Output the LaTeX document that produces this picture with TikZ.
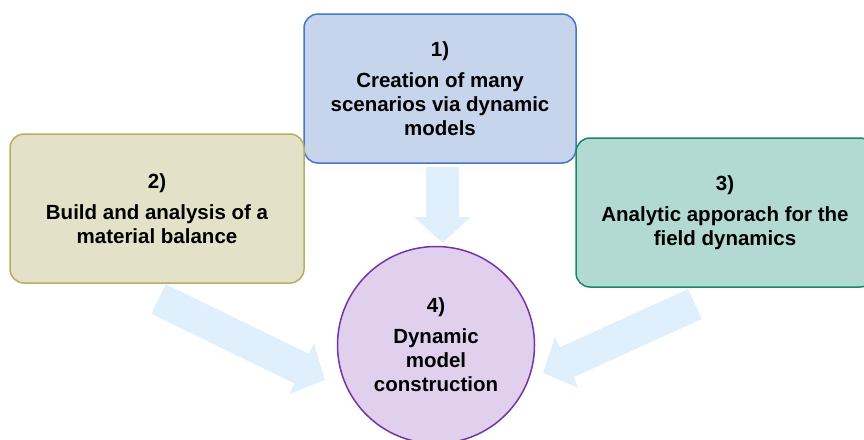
\documentclass[tikz,border=0pt]{standalone}
\usepackage{fontspec}
\setmainfont{Liberation Sans}
\usetikzlibrary{arrows.meta}
\definecolor{oneFill}{HTML}{C6D4EC}
\definecolor{oneLine}{HTML}{4A76C6}
\definecolor{twoFill}{HTML}{E3E1C7}
\definecolor{twoLine}{HTML}{B5B060}
\definecolor{threeFill}{HTML}{B3DAD2}
\definecolor{threeLine}{HTML}{178768}
\definecolor{fourFill}{HTML}{E0D0EE}
\definecolor{fourLine}{HTML}{7434A6}
\definecolor{flowBlue}{HTML}{DFF0FC}
\begin{document}
\begin{tikzpicture}[x=1pt,y=-1pt,
  label text/.style={align=center, text=black,
    font=\bfseries\fontsize{20.5}{24}\selectfont},
  card/.style={label text, draw, line width=1.5pt, rounded corners=14pt,
    inner sep=0pt, minimum height=149pt},
  hub/.style={label text, circle, draw, line width=1.5pt, inner sep=0pt,
    minimum size=197pt},
  flow/.style={draw=flowBlue, line width=33pt,
    -{Triangle[length=26pt,width=55pt]}}]
\useasboundingbox (0,0) rectangle (864,439);

% block arrows feeding the central step
\coordinate (t1) at (442.5,167);
\coordinate (h1) at (442.5,243);
\coordinate (t2) at (158.5,299);
\coordinate (h2) at (325,380);
\coordinate (t3) at (695,304);
\coordinate (h3) at (543,373);
\draw[flow] (t1) -- (h1);
\draw[flow] (t2) -- (h2);
\draw[flow] (t3) -- (h3);

% the four steps
\node[card, fill=oneFill, draw=oneLine, minimum width=272pt] (s1) at (440,88.5)
  {1)\\[7pt]Creation of many\\scenarios via dynamic\\models};
\node[card, fill=twoFill, draw=twoLine, minimum width=294pt] (s2) at (157,208.5)
  {2)\\[7pt]Build and analysis of a\\material balance};
\node[card, fill=threeFill, draw=threeLine, minimum width=298pt] (s3) at (725,212.5)
  {3)\\[7pt]Analytic apporach for the\\field dynamics};
\node[hub, fill=fourFill, draw=fourLine] (s4) at (436,345)
  {4)\\[7pt]Dynamic\\model\\construction};
\end{tikzpicture}
\end{document}
